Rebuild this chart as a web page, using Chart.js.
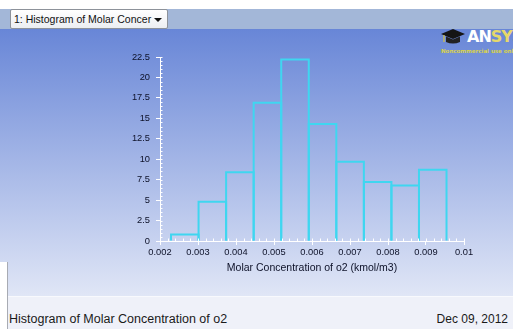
<!DOCTYPE html>
<html>
<head>
<meta charset="utf-8">
<script src="https://cdn.jsdelivr.net/npm/chart.js@4.4.1/dist/chart.umd.min.js"></script>
<style>
  html, body { margin: 0; padding: 0; background: #ffffff; }
  #frame { position: relative; width: 513px; height: 329px; overflow: hidden; font-family: "Liberation Sans", Arial, sans-serif; }
  #toolbar { position: absolute; left: 0; top: 9px; width: 513px; height: 20px; background: #a3b7d8; }
  #picker { position: absolute; left: 10px; top: 0; border: 1px solid #8d929a; border-radius: 2px;
            background: linear-gradient(#ffffff, #eceef2); font-size: 10.5px; color: #111; line-height: 18px; padding-left: 3px; box-sizing: border-box; width: 158px; height: 20px; white-space: nowrap; overflow: hidden; }
  #picker .arrow { position: absolute; right: 5px; top: 8px; width: 0; height: 0; border-left: 4px solid transparent; border-right: 4px solid transparent; border-top: 4px solid #111; }
  #plotbg { position: absolute; left: 0; top: 29px; width: 513px; height: 267px; background: linear-gradient(#6886d7, #e0e6f6); }
  #leftedge { position: absolute; left: 0; top: 262px; width: 7px; height: 67px; background: #ffffff; border-right: 1px solid #a8abb3; }
  #footer { position: absolute; left: 8px; top: 296px; width: 505px; height: 33px; background: #eff1f9; border-top: 1px solid #f8f9fd; }
  #ftitle { position: absolute; left: 1px; top: 15px; font-size: 12.5px; color: #1a1a1a; white-space: nowrap; }
  #fdate { position: absolute; right: 5px; top: 15px; font-size: 12px; color: #1a1a1a; white-space: nowrap; }
  #logo { position: absolute; left: 440px; top: 27px; width: 73px; height: 30px; }
  #logo .word { position: absolute; left: 27px; top: 0; font: bold 16px "DejaVu Sans", sans-serif; letter-spacing: -1px; white-space: nowrap; }
  #logo .an { color: #ffffff; }
  #logo .sys { color: #e6d86a; }
  #logo .note { position: absolute; left: 1px; top: 21px; font: bold 5.5px "DejaVu Sans", sans-serif; color: #d9d24a; white-space: nowrap; }
  #chart { position: absolute; left: 0; top: 0; width: 513px; height: 329px; }
</style>
</head>
<body>
<div id="frame">
  <div id="toolbar"><div id="picker">1: Histogram of Molar Concer<span class="arrow"></span></div></div>
  <div id="plotbg"></div>
  <div id="leftedge"></div>
  <div id="logo">
    <svg width="26" height="18" viewBox="0 0 26 18" style="position:absolute;left:0;top:1px">
      <polygon points="1,6 13,1 25,6 13,11" fill="#151515"/>
      <path d="M6,8.5 L6,14 Q13,17 20,14 L20,8.5 L13,11.5 Z" fill="#222"/>
      <line x1="4" y1="7" x2="4" y2="14" stroke="#d8c640" stroke-width="1.2"/>
    </svg>
    <span class="word"><span class="an">AN</span><span class="sys">SYS</span></span>
    <span class="note">Noncommercial use only</span>
  </div>
  <div id="footer"><span id="ftitle">Histogram of Molar Concentration of o2</span><span id="fdate">Dec 09, 2012</span></div>
  <div id="chart"><canvas id="c" width="513" height="329"></canvas></div>
</div>
<script>
// Bin boundaries (kmol/m3) and the share of cells falling in each bin (%)
const binEdges = [0.00229, 0.003015, 0.00374, 0.004465, 0.00519, 0.005915, 0.00664, 0.007365, 0.00809, 0.008815, 0.00954];
const binCounts = [0.8, 4.8, 8.4, 16.9, 22.2, 14.3, 9.7, 7.2, 6.8, 8.7];
const xTickValues = [0.002, 0.003, 0.004, 0.005, 0.006, 0.007, 0.008, 0.009, 0.01];
const yTickValues = [0, 2.5, 5, 7.5, 10, 12.5, 15, 17.5, 20, 22.5];

const axisTitle = 'Molar Concentration of o2 (kmol/m3)';
const barColor = '#3fd6f0';
const inkColor = '#0d1128';

const points = binCounts.map((c, i) => ({ x: (binEdges[i] + binEdges[i + 1]) / 2, y: c }));

// Outline every bin as an open rectangle standing on the axis
const binOutline = {
  id: 'binOutline',
  afterDatasetsDraw(chart) {
    const ctx = chart.ctx;
    const meta = chart.getDatasetMeta(0);
    ctx.save();
    ctx.strokeStyle = barColor;
    ctx.lineWidth = 2;
    ctx.lineJoin = 'miter';
    meta.data.forEach(bar => {
      const { x, y, base, width } = bar.getProps(['x', 'y', 'base', 'width'], true);
      const l = x - width / 2, r = x + width / 2;
      ctx.beginPath();
      ctx.moveTo(l, base);
      ctx.lineTo(l, y);
      ctx.lineTo(r, y);
      ctx.lineTo(r, base);
      ctx.stroke();
    });
    ctx.restore();
  }
};

// Small minor ticks along both axes
const minorTicks = {
  id: 'minorTicks',
  afterDraw(chart) {
    const { ctx, chartArea, scales } = chart;
    ctx.save();
    ctx.strokeStyle = '#ffffff';
    ctx.lineWidth = 1;
    ctx.beginPath();
    for (let i = 0; i <= 45; i++) {
      const py = Math.round(scales.y.getPixelForValue(i * 0.5)) + 0.5;
      ctx.moveTo(chartArea.left, py);
      ctx.lineTo(chartArea.left + 2.5, py);
    }
    for (let i = 0; i <= 40; i++) {
      const px = Math.round(scales.x.getPixelForValue(0.002 + i * 0.0002)) + 0.5;
      ctx.moveTo(px, chartArea.bottom);
      ctx.lineTo(px, chartArea.bottom - 2.5);
    }
    ctx.stroke();
    ctx.restore();
  }
};

const tickFont = { family: '"Liberation Sans", Arial, sans-serif', size: 9.3 };

new Chart(document.getElementById('c'), {
  type: 'bar',
  data: {
    datasets: [{
      data: points,
      backgroundColor: 'rgba(0,0,0,0)',
      borderWidth: 0,
      barPercentage: 1,
      categoryPercentage: 1,
      grouped: false
    }]
  },
  options: {
    responsive: false,
    animation: false,
    events: [],
    layout: { padding: { left: 0, right: 49, top: 57, bottom: 0 } },
    plugins: { legend: { display: false }, tooltip: { enabled: false }, title: { display: false } },
    scales: {
      x: {
        type: 'linear',
        offset: false,
        min: xTickValues[0],
        max: xTickValues[xTickValues.length - 1],
        afterFit: s => { s.height = 88; },
        afterBuildTicks: s => { s.ticks = xTickValues.map(v => ({ value: v })); },
        ticks: {
          color: inkColor,
          font: tickFont,
          padding: 2,
          maxRotation: 0,
          autoSkip: false,
          callback: v => String(parseFloat(Number(v).toFixed(4)))
        },
        grid: { display: true, offset: false, drawOnChartArea: false, drawTicks: true, tickLength: 4, color: '#ffffff', lineWidth: 1 },
        border: { display: true, color: '#ffffff', width: 1 },
        title: {
          display: true,
          text: axisTitle,
          color: inkColor,
          font: { family: '"Liberation Sans", Arial, sans-serif', size: 10.5 },
          padding: { top: 0, bottom: 55 }
        }
      },
      y: {
        min: yTickValues[0],
        max: yTickValues[yTickValues.length - 1],
        afterFit: s => { s.width = 160; },
        afterBuildTicks: s => { s.ticks = yTickValues.map(v => ({ value: v })); },
        ticks: {
          color: inkColor,
          font: tickFont,
          padding: 6,
          autoSkip: false,
          callback: v => String(v)
        },
        grid: { display: true, drawOnChartArea: false, drawTicks: true, tickLength: 4, color: '#ffffff', lineWidth: 1 },
        border: { display: true, color: '#ffffff', width: 1 }
      }
    }
  },
  plugins: [binOutline, minorTicks]
});
</script>
</body>
</html>
